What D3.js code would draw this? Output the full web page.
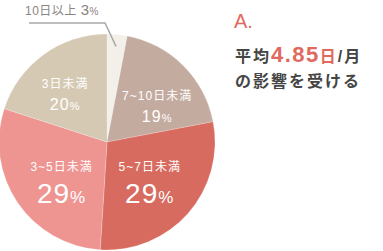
<!DOCTYPE html>
<html>
<head>
<meta charset="utf-8">
<script src="https://cdn.jsdelivr.net/npm/d3@7"></script>
<style>
  body { margin: 0; background: #fff; }
  svg text { font-family: "Liberation Sans", "Noto Sans CJK JP", sans-serif; }
</style>
</head>
<body>
<div id="chart"></div>
<script>
// data, clockwise from 12 o'clock
const categories = ["10日以上", "7~10日未満", "5~7日未満", "3~5日未満", "3日未満"];
const shares = [3, 19, 29, 29, 20];
const colors = ["#f3f0e9", "#c4aba0", "#d86b5f", "#ee9491", "#d6c9b4"];

// small nudges for the in-slice labels (px)
const labelNudge = [null, [7, 13], [-3, 1], [5, 7], [-6, 7]];

const width = 383;
const height = 251;
const cx = 107, cy = 142, radius = 108;

const svg = d3.select("#chart")
  .append("svg")
  .attr("width", width)
  .attr("height", height);

const pie = d3.pie().sort(null).value(d => d)(shares);
const arc = d3.arc().innerRadius(0).outerRadius(radius);
const labelArc = d3.arc().innerRadius(61).outerRadius(61);
const calloutArc = d3.arc().innerRadius(96).outerRadius(96);

const g = svg.append("g").attr("transform", `translate(${cx},${cy})`);

g.selectAll("path")
  .data(pie)
  .enter().append("path")
    .attr("d", arc)
    .attr("fill", (d, i) => colors[i])
    .attr("stroke", "rgba(255,255,255,0.35)")
    .attr("stroke-width", 0.6);

// labels inside slices
pie.forEach((d, i) => {
  if (i === 0) return;
  const [x, y] = labelArc.centroid(d);
  const ax = x + labelNudge[i][0];
  const ay = y + labelNudge[i][1];
  const big = d.data >= 25;
  g.append("text")
    .attr("x", ax).attr("y", ay - 12)
    .attr("text-anchor", "middle")
    .attr("fill", "#fff")
    .attr("font-size", 12)
    .attr("letter-spacing", 1)
    .text(categories[i]);
  const t = g.append("text")
    .attr("x", ax).attr("y", ay + (big ? 20 : 10))
    .attr("text-anchor", "middle")
    .attr("fill", "#fff")
    .attr("font-size", big ? 28 : 16)
    .attr("letter-spacing", 1);
  t.append("tspan").text(d.data);
  t.append("tspan").attr("font-size", big ? 17 : 11).text("%");
});

// callout for the small slice
const end = calloutArc.centroid(pie[0]);
const ex = cx + end[0], ey = cy + end[1];
svg.append("path")
  .attr("d", `M29,23 L${ex - 11},23 L${ex},${ey}`)
  .attr("fill", "none")
  .attr("stroke", "#aaa9a7")
  .attr("stroke-width", 1.5);

const ct = svg.append("text")
  .attr("x", 25).attr("y", 15)
  .attr("fill", "#8a8383")
  .attr("font-size", 12)
  .attr("letter-spacing", 0.5);
ct.append("tspan").text(categories[0] + " ");
ct.append("tspan").attr("font-size", 15).text(shares[0]);
ct.append("tspan").attr("font-size", 10).text("%");

// headline on the right
svg.append("text")
  .attr("x", 234).attr("y", 28)
  .attr("fill", "#e0695d")
  .attr("font-size", 20)
  .text("A.");

const h1 = svg.append("text")
  .attr("x", 235).attr("y", 62)
  .attr("fill", "#454545")
  .attr("font-weight", "bold")
  .attr("font-size", 16)
  .attr("letter-spacing", 2);
h1.append("tspan").text("平均");
h1.append("tspan").attr("fill", "#e0695d").attr("font-size", 22).attr("letter-spacing", 1.5).text("4.85");
h1.append("tspan").attr("fill", "#e0695d").attr("font-size", 16).text("日");
h1.append("tspan").text("/月");

svg.append("text")
  .attr("x", 235).attr("y", 87)
  .attr("fill", "#454545")
  .attr("font-weight", "bold")
  .attr("font-size", 16)
  .attr("letter-spacing", 2)
  .text("の影響を受ける");
</script>
</body>
</html>
